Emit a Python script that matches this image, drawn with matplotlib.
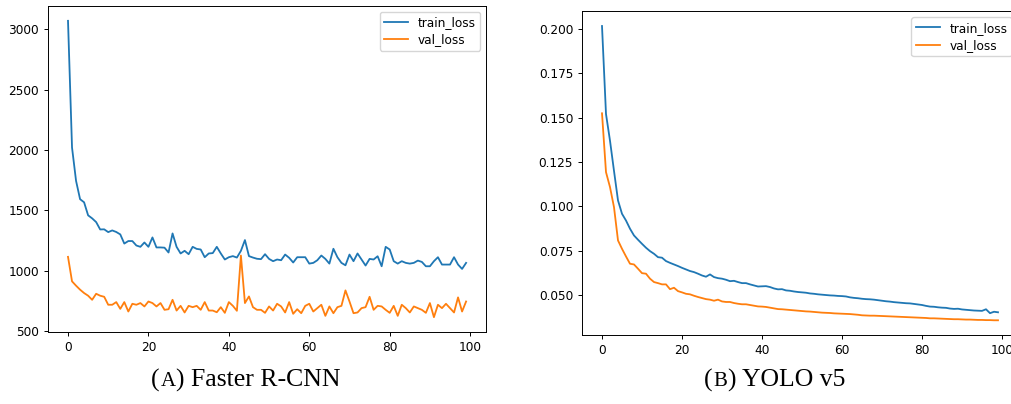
import matplotlib
matplotlib.use("Agg")
import matplotlib.pyplot as plt
from matplotlib.offsetbox import TextArea, HPacker, AnnotationBbox

# Faster R-CNN losses (left panel)
frcnn_train = [3070, 2020, 1744, 1592, 1566, 1458, 1433, 1402, 1341, 1342,
               1319, 1333, 1320, 1300, 1224, 1245, 1245, 1208, 1197, 1233,
               1197, 1275, 1192, 1192, 1190, 1150, 1308, 1197, 1142, 1164,
               1136, 1197, 1180, 1175, 1111, 1142, 1145, 1197, 1142, 1092,
               1111, 1120, 1108, 1164, 1253, 1120, 1108, 1098, 1095, 1136,
               1097, 1078, 1092, 1086, 1133, 1106, 1067, 1111, 1111, 1111,
               1058, 1064, 1086, 1125, 1097, 1058, 1181, 1111, 1064, 1044,
               1133, 1078, 1142, 1092, 1042, 1097, 1092, 1119, 1036, 1197,
               1175, 1078, 1058, 1078, 1064, 1058, 1064, 1083, 1072, 1036,
               1036, 1078, 1111, 1050, 1050, 1050, 1111, 1050, 1014, 1064]
frcnn_val = [1114, 911, 875, 842, 814, 792, 758, 808, 792, 783,
             717, 717, 739, 683, 739, 661, 725, 717, 731, 703,
             744, 731, 703, 731, 675, 680, 758, 669, 708, 653,
             708, 697, 708, 675, 739, 669, 669, 655, 697, 650,
             739, 708, 667, 1125, 731, 786, 697, 675, 675, 650,
             703, 669, 725, 703, 653, 739, 642, 680, 647, 708,
             725, 661, 689, 717, 625, 703, 647, 697, 708, 836,
             744, 647, 653, 689, 697, 783, 675, 708, 703, 675,
             650, 708, 625, 717, 689, 653, 703, 689, 675, 650,
             731, 614, 717, 689, 725, 689, 653, 778, 661, 744]

# YOLO v5 losses (right panel)
yolo_train = [0.2015, 0.152, 0.137, 0.120, 0.1034, 0.0959, 0.0921, 0.0875, 0.0837, 0.0813,
              0.0790, 0.0768, 0.0749, 0.0734, 0.0715, 0.0712, 0.0693, 0.0683, 0.0674, 0.0665,
              0.0655, 0.0646, 0.0637, 0.0631, 0.0622, 0.0612, 0.0605, 0.0618, 0.0603, 0.0597,
              0.0594, 0.0588, 0.0580, 0.0582, 0.0575, 0.0569, 0.0569, 0.0562, 0.0556, 0.0550,
              0.0551, 0.0552, 0.0547, 0.0539, 0.0534, 0.0535, 0.0528, 0.0526, 0.0522, 0.0519,
              0.0517, 0.0515, 0.0511, 0.0509, 0.0506, 0.0504, 0.0502, 0.0500, 0.0499, 0.0497,
              0.0496, 0.0494, 0.0489, 0.0486, 0.0484, 0.0481, 0.0479, 0.0478, 0.0476, 0.0473,
              0.0470, 0.0467, 0.0465, 0.0462, 0.0460, 0.0458, 0.0456, 0.0455, 0.0452, 0.0449,
              0.0446, 0.0441, 0.0437, 0.0436, 0.0433, 0.0431, 0.0430, 0.0426, 0.0424, 0.0425,
              0.0421, 0.0419, 0.0417, 0.0415, 0.0414, 0.0413, 0.0422, 0.0400, 0.0408, 0.0405]
yolo_val = [0.1524, 0.1193, 0.1109, 0.0996, 0.0809, 0.0762, 0.0719, 0.0678, 0.0674, 0.0650,
            0.0625, 0.0622, 0.0594, 0.0575, 0.0569, 0.0562, 0.0562, 0.0535, 0.0543, 0.0524,
            0.0517, 0.0509, 0.0506, 0.0498, 0.0491, 0.0485, 0.0479, 0.0476, 0.0470, 0.0476,
            0.0466, 0.0463, 0.0463, 0.0457, 0.0453, 0.0450, 0.0450, 0.0446, 0.0442, 0.0438,
            0.0437, 0.0435, 0.0431, 0.0427, 0.0423, 0.0422, 0.0420, 0.0418, 0.0416, 0.0414,
            0.0412, 0.0410, 0.0409, 0.0407, 0.0405, 0.0403, 0.0402, 0.0401, 0.0399, 0.0398,
            0.0397, 0.0396, 0.0395, 0.0393, 0.0391, 0.0388, 0.0387, 0.0386, 0.0386, 0.0385,
            0.0384, 0.0383, 0.0382, 0.0381, 0.0380, 0.0379, 0.0378, 0.0377, 0.0376, 0.0375,
            0.0374, 0.0373, 0.0371, 0.0371, 0.0370, 0.0369, 0.0368, 0.0367, 0.0366, 0.0366,
            0.0365, 0.0364, 0.0364, 0.0363, 0.0362, 0.0362, 0.0361, 0.0361, 0.0360, 0.0360]

epochs = list(range(100))
series_labels = ["train_loss", "val_loss"]
captions = [("A", "Faster R-CNN"), ("B", "YOLO v5")]

W, H = 1012, 404
fig = plt.figure(figsize=(W / 100, H / 100), dpi=100)

fs = 8.7
plt.rcParams.update({
    "xtick.labelsize": fs, "ytick.labelsize": fs,
    "xtick.major.size": 3, "ytick.major.size": 3,
    "xtick.major.width": 0.7, "ytick.major.width": 0.7,
    "axes.linewidth": 0.7,
})

# axes boxes in pixels: left, bottom(from top), right, top
ax1 = fig.add_axes([48.1 / W, (H - 332) / H, (486 - 48.1) / W, (332 - 6) / H])
ax2 = fig.add_axes([582.2 / W, (H - 335) / H, (1017.8 - 582.2) / W, (335 - 11.3) / H])

for ax, tr, va in [(ax1, frcnn_train, frcnn_val), (ax2, yolo_train, yolo_val)]:
    ax.plot(epochs, tr, color="#1f77b4", lw=1.3, label=series_labels[0])
    ax.plot(epochs, va, color="#ff7f0e", lw=1.3, label=series_labels[1])
    ax.legend(loc="upper right", fontsize=fs, handlelength=2.0, borderpad=0.35,
              labelspacing=0.35, framealpha=0.8)
    ax.set_xticks([0, 20, 40, 60, 80, 100])

ax1.set_yticks([500, 1000, 1500, 2000, 2500, 3000])
ax2.set_yticks([0.050, 0.075, 0.100, 0.125, 0.150, 0.175, 0.200])
ax2.set_yticklabels(["%.3f" % v for v in ax2.get_yticks()])


def caption(letter, text, xc):
    serif = dict(family="Liberation Serif", color="black")
    parts = [TextArea("(", textprops=dict(size=18.5, **serif)),
             TextArea(letter, textprops=dict(size=15, **serif)),
             TextArea(") " + text, textprops=dict(size=18.5, **serif))]
    box = HPacker(children=parts, align="baseline", pad=0, sep=0.5)
    ab = AnnotationBbox(box, (xc / W, (H - 380) / H), xycoords="figure fraction",
                        frameon=False, box_alignment=(0.5, 0.5), pad=0)
    fig.add_artist(ab)


caption(captions[0][0], captions[0][1], 246)
caption(captions[1][0], captions[1][1], 775)

fig.savefig("out.png", dpi=100)
